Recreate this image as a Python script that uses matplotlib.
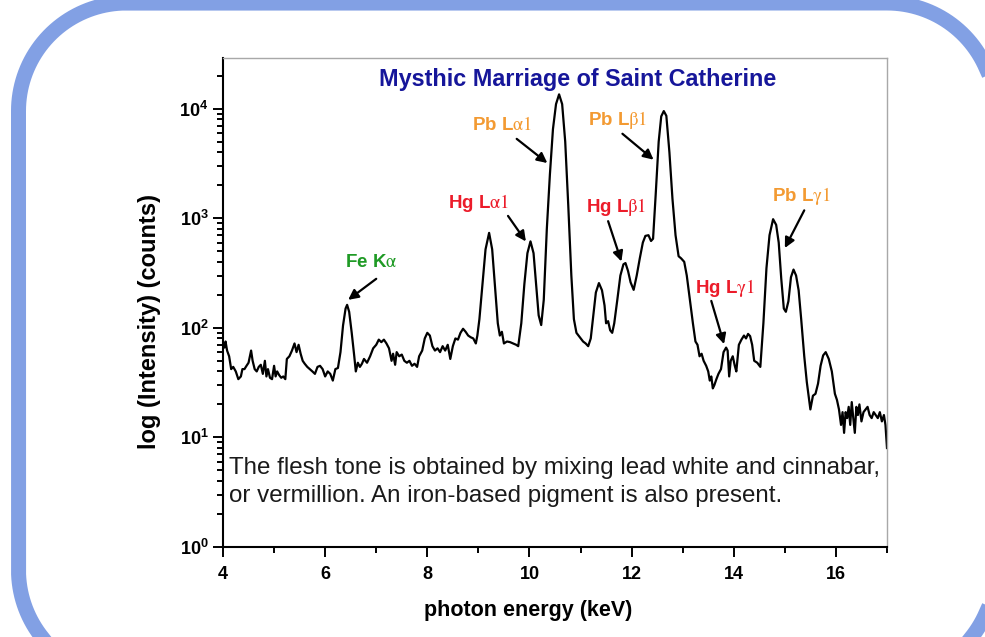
import numpy as np
import matplotlib
matplotlib.use("Agg")
import matplotlib.pyplot as plt
from matplotlib.lines import Line2D
from matplotlib.ticker import FixedLocator, LogLocator, NullFormatter, FuncFormatter

plt.rcParams['font.family'] = ['Liberation Sans', 'DejaVu Sans']
plt.rcParams['mathtext.fontset'] = 'custom'
plt.rcParams['mathtext.rm'] = 'Liberation Sans'
plt.rcParams['mathtext.bf'] = 'Liberation Sans:bold'

# XRF spectrum: photon energy (keV) and counts
energy = [
    4.00, 4.03, 4.05, 4.08, 4.12, 4.16, 4.20, 4.25, 4.30, 4.35, 4.38, 4.42, 4.46, 4.50,
    4.55, 4.58, 4.62, 4.66, 4.70, 4.74, 4.78, 4.82, 4.85, 4.88, 4.92, 4.96, 5.00, 5.03,
    5.06, 5.10, 5.14, 5.18, 5.22, 5.25, 5.30, 5.35, 5.40, 5.44, 5.48, 5.52, 5.56, 5.60,
    5.65, 5.70, 5.75, 5.80, 5.85, 5.90, 5.95, 6.00, 6.05, 6.10, 6.15, 6.20, 6.25, 6.30,
    6.35, 6.40, 6.43, 6.47, 6.52, 6.57, 6.60, 6.64, 6.68, 6.72, 6.76, 6.82, 6.88, 6.94,
    7.00, 7.05, 7.10, 7.15, 7.20, 7.25, 7.30, 7.33, 7.37, 7.40, 7.45, 7.50, 7.55, 7.60,
    7.65, 7.70, 7.75, 7.80, 7.84, 7.90, 7.95, 8.00, 8.05, 8.10, 8.15, 8.20, 8.25, 8.30,
    8.35, 8.40, 8.45, 8.50, 8.55, 8.60, 8.65, 8.70, 8.75, 8.80, 8.85, 8.90, 8.95, 8.98,
    9.02, 9.08, 9.14, 9.21, 9.27, 9.33, 9.38, 9.42, 9.46, 9.50, 9.56, 9.62, 9.68, 9.74,
    9.78, 9.84, 9.90, 9.96, 10.02, 10.08, 10.13, 10.18, 10.23, 10.28, 10.34, 10.40,
    10.46, 10.52, 10.58, 10.64, 10.70, 10.76, 10.82, 10.87, 10.92, 10.96, 11.00, 11.05,
    11.10, 11.15, 11.20, 11.25, 11.30, 11.36, 11.42, 11.47, 11.50, 11.54, 11.58, 11.62,
    11.66, 11.72, 11.78, 11.84, 11.88, 11.93, 11.98, 12.04, 12.10, 12.16, 12.22, 12.27,
    12.33, 12.38, 12.42, 12.47, 12.53, 12.58, 12.63, 12.68, 12.74, 12.80, 12.86, 12.92,
    12.97, 13.03, 13.08, 13.14, 13.20, 13.25, 13.29, 13.33, 13.37, 13.41, 13.46, 13.50,
    13.53, 13.56, 13.59, 13.62, 13.66, 13.70, 13.75, 13.80, 13.85, 13.88, 13.91, 13.94,
    13.98, 14.02, 14.05, 14.10, 14.15, 14.20, 14.24, 14.28, 14.32, 14.36, 14.40, 14.46,
    14.52, 14.58, 14.64, 14.70, 14.77, 14.83, 14.88, 14.93, 14.98, 15.02, 15.07, 15.12,
    15.17, 15.22, 15.27, 15.32, 15.38, 15.43, 15.50, 15.55, 15.60, 15.65, 15.70, 15.75,
    15.80, 15.86, 15.92, 15.98, 16.02, 16.06, 16.10, 16.13, 16.16, 16.19, 16.22, 16.25,
    16.28, 16.31, 16.34, 16.37, 16.40, 16.43, 16.46, 16.50, 16.54, 16.58, 16.62, 16.66,
    16.70, 16.74, 16.78, 16.82, 16.86, 16.90, 16.94, 16.97, 17.00,
]
counts = [
    72, 66, 75, 62, 55, 42, 44, 40, 34, 36, 42, 42, 45, 48,
    62, 50, 42, 40, 44, 46, 38, 50, 36, 42, 35, 34, 45, 36,
    40, 37, 35, 36, 34, 52, 55, 62, 72, 60, 70, 58, 50, 47,
    44, 42, 40, 38, 44, 45, 42, 36, 40, 38, 33, 42, 43, 60,
    105, 150, 162, 140, 90, 55, 40, 48, 44, 47, 52, 48, 55, 65,
    70, 78, 74, 78, 72, 65, 50, 58, 46, 60, 55, 57, 50, 48,
    50, 45, 47, 44, 55, 62, 80, 90, 85, 68, 62, 65, 60, 68,
    62, 70, 52, 68, 80, 78, 90, 98, 92, 85, 82, 80, 72, 85,
    120, 250, 520, 735, 520, 220, 110, 85, 92, 72, 75, 74, 72, 70,
    68, 110, 250, 480, 615, 480, 250, 130, 106, 180, 800, 2500,
    6500, 11000, 13500, 11000, 5000, 1300, 300, 120, 90, 85, 80, 75,
    72, 68, 80, 130, 210, 256, 220, 160, 110, 115, 95, 90,
    110, 180, 300, 380, 390, 330, 260, 222, 300, 430, 600, 690,
    700, 620, 650, 1600, 5000, 8500, 9500, 8600, 4000, 1500, 700, 450,
    430, 400, 300, 180, 110, 75, 70, 55, 58, 50, 45, 40,
    33, 36, 28, 30, 34, 38, 42, 60, 66, 62, 36, 50,
    55, 45, 40, 70, 78, 85, 80, 88, 84, 70, 50, 48,
    44, 110, 350, 700, 980, 870, 600, 280, 150, 140, 175, 290,
    340, 300, 220, 120, 55, 32, 18, 24, 25, 31, 45, 56,
    60, 52, 40, 25, 22, 18, 13, 17, 11, 17, 15, 19,
    13, 21, 15, 11, 19, 16, 20, 14, 17, 18, 19, 16,
    15, 17, 16, 15, 17, 14, 16, 13, 8,
]

# peak labels, the element that sets their colour, text position and arrow (energy, counts)
peak_labels = [r"Fe K$\mathrm{\alpha}$", r"Pb L$\mathrm{\alpha 1}$", r"Hg L$\mathrm{\alpha 1}$",
               r"Hg L$\mathrm{\beta 1}$", r"Pb L$\mathrm{\beta 1}$", r"Hg L$\mathrm{\gamma 1}$",
               r"Pb L$\mathrm{\gamma 1}$"]
label_element = ["Fe", "Pb", "Hg", "Hg", "Pb", "Hg", "Pb"]
label_x = [6.90, 9.46, 9.01, 11.69, 11.73, 13.82, 15.33]
label_y = [392, 7140, 1383, 1274, 7940, 232, 1585]
arrow_from_x = [7.00, 9.75, 9.58, 11.54, 11.82, 13.56, 15.38]
arrow_from_y = [280, 5300, 1050, 940, 5900, 176, 1180]
tip_x = [6.45, 10.35, 9.93, 11.80, 12.43, 13.81, 15.00]
tip_y = [180, 3190, 614, 403, 3420, 71, 535]

element_colors = {"Fe": "#1f9a25", "Pb": "#f39a32", "Hg": "#ec1c2a"}

x_ticks = [4, 6, 8, 10, 12, 14, 16]

fig = plt.figure(figsize=(9.85, 6.37), dpi=100)

# light blue rounded frame (inches), running off the right and bottom edges
x0, x1, yb, yt, rad = 0.185, 9.95, -0.41, 6.34, 1.08
fx, fy = [], []
for cx, cy, a0 in [(x1 - rad, yt - rad, 0), (x0 + rad, yt - rad, 90),
                   (x0 + rad, yb + rad, 180), (x1 - rad, yb + rad, 270)]:
    ang = np.radians(np.linspace(a0, a0 + 90, 40))
    fx.extend(cx + rad * np.cos(ang))
    fy.extend(cy + rad * np.sin(ang))
fx.append(fx[0])
fy.append(fy[0])
fig.add_artist(Line2D(fx, fy, transform=fig.dpi_scale_trans, color="#82a0e4",
                      linewidth=10.8, solid_joinstyle="round"))

ax = fig.add_axes([0.2264, 0.1413, 0.6741, 0.7677])
ax.plot(energy, counts, color="black", linewidth=1.6)

ax.set_yscale("log")
ax.set_xlim(4, 17)
ax.set_ylim(1, 2.9e4)

ax.xaxis.set_major_locator(FixedLocator(x_ticks))
ax.xaxis.set_minor_locator(FixedLocator([5, 7, 9, 11, 13, 15, 17]))
ax.yaxis.set_major_locator(LogLocator(base=10, numticks=10))
ax.yaxis.set_minor_locator(LogLocator(base=10, subs=np.arange(2, 10), numticks=10))
ax.yaxis.set_minor_formatter(NullFormatter())
ax.yaxis.set_major_formatter(FuncFormatter(
    lambda v, p: r"$\mathbf{10^{%d}}$" % round(np.log10(v))))

ax.tick_params(which="both", direction="out", top=False, right=False,
               width=1.4, labelsize=13)
ax.tick_params(axis="x", which="major", pad=7)
ax.tick_params(which="major", length=7)
ax.tick_params(which="minor", length=4)
for lab in ax.get_xticklabels() + ax.get_yticklabels():
    lab.set_fontweight("bold")

for side in ["left", "bottom"]:
    ax.spines[side].set_linewidth(1.5)
for side in ["top", "right"]:
    ax.spines[side].set_color("#a8a8a8")
    ax.spines[side].set_linewidth(1.0)

ax.set_xlabel("photon energy (keV)", fontsize=15.5, fontweight="bold")
ax.set_ylabel("log (Intensity) (counts)", fontsize=17, fontweight="bold")
ax.xaxis.set_label_coords(0.459, -0.108)
ax.yaxis.set_label_coords(-0.093, 0.462)

ax.text(0.534, 0.955, "Mysthic Marriage of Saint Catherine", transform=ax.transAxes,
        ha="center", va="center", fontsize=16.8, fontweight="bold", color="#16169a")

for i in range(len(peak_labels)):
    col = element_colors[label_element[i]]
    ax.text(label_x[i], label_y[i], peak_labels[i], ha="center", va="center",
            fontsize=13.5, fontweight="bold", color=col, math_fontfamily="stix")
    ax.annotate("", xy=(tip_x[i], tip_y[i]), xytext=(arrow_from_x[i], arrow_from_y[i]),
                arrowprops=dict(arrowstyle="-|>", color="black", lw=1.6,
                                mutation_scale=15, shrinkA=0, shrinkB=0))

ax.text(0.009, 0.133, "The flesh tone is obtained by mixing lead white and cinnabar,\n"
        "or vermillion. An iron-based pigment is also present.",
        transform=ax.transAxes, ha="left", va="center", fontsize=17.4,
        linespacing=1.3, color="#1a1a1a")

fig.savefig("out.png", dpi=100)
